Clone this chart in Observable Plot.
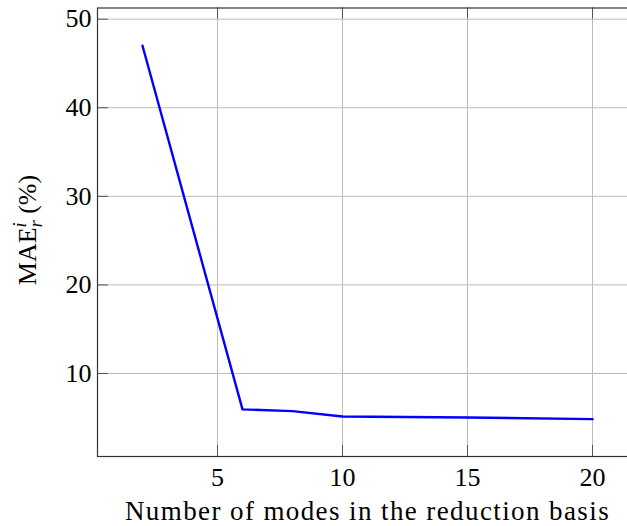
<!DOCTYPE html>
<html>
<head>
<meta charset="utf-8">
<script src="https://cdn.jsdelivr.net/npm/d3@7"></script>
<script src="https://cdn.jsdelivr.net/npm/@observablehq/plot@0.6"></script>
<style>
  html, body { margin: 0; padding: 0; background: #fff; overflow: hidden; }
  svg { font-family: "Liberation Serif", "DejaVu Serif", serif; }
</style>
</head>
<body>
<div id="chart"></div>
<script>
const modes = [2, 6, 8, 10, 15, 20];
const mae = [47.0, 5.95, 5.75, 5.15, 5.03, 4.85];
const xTicks = [5, 10, 15, 20];
const yTicks = [10, 20, 30, 40, 50];
const xLabel = "Number of modes in the reduction basis";
const yLabelMain = "MAE";
const yLabelSup = "i";
const yLabelSub = "r";
const yLabelTail = " (%)";

const data = modes.map((m, i) => ({x: m, y: mae[i]}));

const W = 627, H = 526;
const mL = 97, mR = -10, mT = 7.5, mB = 70;
const fs = 26;
const frameColor = "#333";
const tickColor = "#555";
const gridColor = "#bdbdbd";
const tickLen = 11;
const plotW = W - mL - mR, plotH = H - mT - mB;

const chart = Plot.plot({
  width: W,
  height: H,
  marginLeft: mL,
  marginRight: mR,
  marginTop: mT,
  marginBottom: mB,
  style: {fontSize: fs + "px", fontFamily: '"Liberation Serif", "DejaVu Serif", serif', background: "#fff", color: "#000"},
  x: {domain: [0.2, 21.8], label: null},
  y: {domain: [0.63, 51.26], label: null},
  marks: [
    Plot.gridX(xTicks, {stroke: gridColor, strokeOpacity: 1, strokeWidth: 1}),
    Plot.gridY(yTicks, {stroke: gridColor, strokeOpacity: 1, strokeWidth: 1}),
    Plot.tickX(xTicks, {x: d => d, insetTop: plotH - tickLen, stroke: tickColor}),
    Plot.tickX(xTicks, {x: d => d, insetBottom: plotH - tickLen, stroke: tickColor}),
    Plot.tickY(yTicks, {y: d => d, insetRight: plotW - tickLen, stroke: tickColor}),
    Plot.axisX(xTicks, {anchor: "bottom", tickSize: 0, tickPadding: 11, fill: "#000", fontSize: fs}),
    Plot.axisY(yTicks, {anchor: "left", tickSize: 0, tickPadding: 6, fill: "#000", fontSize: fs}),
    Plot.line(data, {x: "x", y: "y", stroke: "#0000ff", strokeWidth: 2.4}),
    Plot.frame({stroke: frameColor, strokeWidth: 1.2}),
    Plot.text([xLabel], {frameAnchor: "bottom", lineAnchor: "middle", dy: 55, fontSize: 27, fill: "#000", letterSpacing: "1.4px"})
  ]
});

const svg = d3.select(chart);
svg.selectAll("text").filter(function(){ return this.textContent === xLabel; }).style("letter-spacing", "1.4px");
const cy = 230;
const t = svg.append("text")
  .attr("transform", `translate(36,${cy}) rotate(-90)`)
  .attr("text-anchor", "middle")
  .attr("font-size", fs)
  .attr("fill", "#000");
t.append("tspan").text(yLabelMain);
t.append("tspan").attr("font-size", 18).attr("dy", -10).attr("font-style", "italic").text(yLabelSup);
t.append("tspan").attr("font-size", 18).attr("dx", -5).attr("dy", 16).attr("font-style", "italic").text(yLabelSub);
t.append("tspan").attr("dy", -6).text(yLabelTail);

document.getElementById("chart").appendChild(chart);
</script>
</body>
</html>
